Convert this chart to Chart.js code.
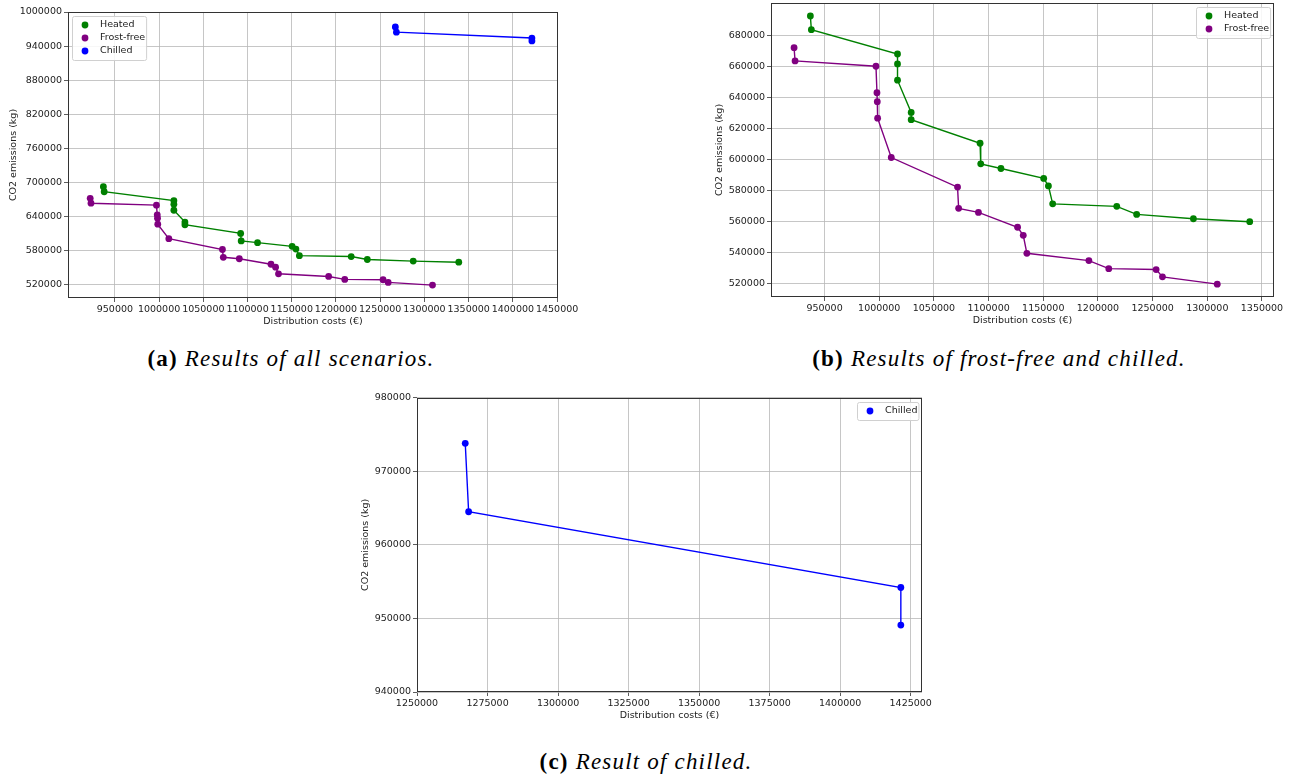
<!DOCTYPE html>
<html>
<head>
<meta charset="utf-8">
<script src="https://cdn.jsdelivr.net/npm/chart.js@4/dist/chart.umd.min.js"></script>
<style>
  html, body { margin:0; padding:0; background:#fff; }
  body { width:1291px; height:778px; position:relative; overflow:hidden; }
  canvas { position:absolute; }
  .cap { position:absolute; font-family:"Liberation Serif", "DejaVu Serif", serif; font-size:23px; letter-spacing:1.2px; color:#000; white-space:nowrap; transform:translateX(-50%); }
  .cap b { font-style:normal; }
  .cap i { font-style:italic; }
</style>
</head>
<body>
<canvas id="ca" width="590" height="335" style="left:0px;top:0px"></canvas>
<canvas id="cb" width="586" height="345" style="left:705px;top:-10px"></canvas>
<canvas id="cc" width="600" height="340" style="left:350px;top:390px"></canvas>
<div class="cap" style="left:291px;top:346px"><b>(a)</b> <i>Results of all scenarios.</i></div>
<div class="cap" style="left:999px;top:346px"><b>(b)</b> <i>Results of frost-free and chilled.</i></div>
<div class="cap" style="left:646px;top:749px"><b>(c)</b> <i>Result of chilled.</i></div>
<script>
// ---- Data ----
const heatedCost = [937000, 937900, 1016700, 1016700, 1016700, 1029200, 1029200, 1092200, 1092800, 1111300, 1150400, 1154700, 1158600, 1217200, 1235400, 1287300, 1338800];
const heatedCO2  = [692700, 683900, 668200, 661800, 651300, 630500, 625800, 610600, 597300, 594300, 587900, 583100, 571500, 569900, 564700, 561900, 560000];

const frostCost = [922100, 923000, 997000, 997900, 998200, 998500, 1011000, 1071600, 1072600, 1090700, 1126500, 1131700, 1135000, 1191700, 1209900, 1253200, 1259000, 1309100];
const frostCO2  = [672300, 663700, 660300, 643200, 637400, 626800, 601400, 582300, 568600, 566000, 556400, 551200, 539600, 534900, 529700, 529100, 524400, 519700];

const chilledCost = [1267100, 1268300, 1421500, 1421500];
const chilledCO2  = [973800, 964500, 954200, 949100];

const seriesNames = ["Heated", "Frost-free", "Chilled"];

// tick labels
const ticksAx = [950000, 1000000, 1050000, 1100000, 1150000, 1200000, 1250000, 1300000, 1350000, 1400000, 1450000];
const ticksAy = [520000, 580000, 640000, 700000, 760000, 820000, 880000, 940000, 1000000];
const ticksBx = [950000, 1000000, 1050000, 1100000, 1150000, 1200000, 1250000, 1300000, 1350000];
const ticksBy = [520000, 540000, 560000, 580000, 600000, 620000, 640000, 660000, 680000];
const ticksCx = [1250000, 1275000, 1300000, 1325000, 1350000, 1375000, 1400000, 1425000];
const ticksCy = [940000, 950000, 960000, 970000, 980000];

const xTitle = "Distribution costs (€)";
const yTitle = "CO2 emissions (kg)";

// ---- helpers ----
const COLORS = { "Heated": "#008000", "Frost-free": "#800080", "Chilled": "#0000ff" };
const FONT = { family: "DejaVu Sans", size: 9.5 };
const TXT = "#222";

function pts(xs, ys) { return xs.map((x, i) => ({ x: x, y: ys[i] })); }
function ds(name, xs, ys) {
  const c = COLORS[name];
  return {
    label: name, data: pts(xs, ys), showLine: true,
    borderColor: c, backgroundColor: c, borderWidth: 1.4,
    pointRadius: 3.4, pointHoverRadius: 3.4, pointBorderWidth: 0,
    pointBackgroundColor: c, tension: 0
  };
}

const framePlugin = {
  id: "frame",
  afterDatasetsDraw(chart) {
    const a = chart.chartArea, ctx = chart.ctx;
    ctx.save();
    ctx.strokeStyle = "#333"; ctx.lineWidth = 1;
    ctx.strokeRect(Math.round(a.left) + 0.5, Math.round(a.top) + 0.5, Math.round(a.right - a.left) - 1, Math.round(a.bottom - a.top) - 1);
    ctx.restore();
  }
};

const legendPlugin = {
  id: "mplLegend",
  afterDraw(chart, args, opts) {
    const ctx = chart.ctx, a = chart.chartArea;
    const labels = chart.data.datasets.map(d => d.label);
    ctx.save();
    ctx.font = FONT.size + "px " + FONT.family;
    const tw = Math.max(...labels.map(l => ctx.measureText(l).width));
    const rowH = 13, padY = 2;
    const w = 28 + tw + 1;
    const h = padY * 2 + rowH * labels.length + 1;
    const off = 4;
    const x0 = Math.round(opts.loc === "upper right" ? a.right - off - w : a.left + off);
    const y0 = Math.round(a.top + off);
    ctx.fillStyle = "rgba(255,255,255,0.85)";
    ctx.strokeStyle = "#d0d0d0"; ctx.lineWidth = 1;
    ctx.beginPath();
    if (ctx.roundRect) ctx.roundRect(x0 + 0.5, y0 + 0.5, w, h, 2); else ctx.rect(x0 + 0.5, y0 + 0.5, w, h);
    ctx.fill(); ctx.stroke();
    labels.forEach((l, i) => {
      const cy = y0 + padY + rowH * i + rowH / 2 + 0.5;
      ctx.fillStyle = COLORS[l];
      ctx.beginPath(); ctx.arc(x0 + 13, cy, 3.4, 0, Math.PI * 2); ctx.fill();
      ctx.fillStyle = TXT; ctx.textBaseline = "middle"; ctx.textAlign = "left";
      ctx.fillText(l, x0 + 28, cy);
    });
    ctx.restore();
  }
};

function axis(min, max, ticks, title, yw, xh, titlePad) {
  return {
    type: "linear", min: min, max: max,
    afterBuildTicks: (s) => { s.ticks = ticks.map(v => ({ value: v })); },
    afterFit: (s) => { if (yw) s.width = yw; if (xh) s.height = xh; },
    ticks: { autoSkip: false, maxRotation: 0, minRotation: 0, color: TXT, font: FONT, padding: 2,
             callback: (v) => String(v) },
    grid: { color: "#b8b8b8", lineWidth: 0.8, drawTicks: true, tickLength: 4, tickColor: "#333" },
    border: { display: false },
    title: { display: true, text: title, color: TXT, font: FONT, padding: titlePad }
  };
}

function makeChart(id, datasets, sc, pad, loc) {
  return new Chart(document.getElementById(id), {
    type: "scatter",
    data: { datasets: datasets },
    options: {
      responsive: false, animation: false, devicePixelRatio: 1,
      layout: { padding: pad },
      plugins: { legend: { display: false }, tooltip: { enabled: false }, mplLegend: { loc: loc } },
      scales: {
        x: axis(sc.xmin, sc.xmax, sc.xt, xTitle, null, sc.xh, { top: 0, bottom: sc.xtp }),
        y: axis(sc.ymin, sc.ymax, sc.yt, yTitle, sc.yw, null, { top: sc.ytp, bottom: 0 })
      }
    },
    plugins: [framePlugin, legendPlugin]
  });
}

Chart.defaults.font.family = FONT.family;

makeChart("ca",
  [ds(seriesNames[0], heatedCost, heatedCO2), ds(seriesNames[1], frostCost, frostCO2), ds(seriesNames[2], chilledCost, chilledCO2)],
  { xmin: 897000, xmax: 1451000, xt: ticksAx, ymin: 497000, ymax: 1000000, yt: ticksAy, yw: 68, xh: 37, xtp: 7.3, ytp: 8.3 },
  { left: 0, right: 32, top: 12, bottom: 0 }, "upper left");

makeChart("cb",
  [ds(seriesNames[0], heatedCost, heatedCO2), ds(seriesNames[1], frostCost, frostCO2)],
  { xmin: 901000, xmax: 1361000, xt: ticksBx, ymin: 511400, ymax: 701100, yt: ticksBy, yw: 66, xh: 38, xtp: 8.3, ytp: 9.3 },
  { left: 0, right: 17, top: 13, bottom: 0 }, "upper right");

makeChart("cc",
  [ds(seriesNames[2], chilledCost, chilledCO2)],
  { xmin: 1250000, xmax: 1429000, xt: ticksCx, ymin: 940000, ymax: 980000, yt: ticksCy, yw: 67, xh: 38, xtp: 8.3, ytp: 10.3 },
  { left: 0, right: 28, top: 7, bottom: 0 }, "upper right");
</script>
</body>
</html>
